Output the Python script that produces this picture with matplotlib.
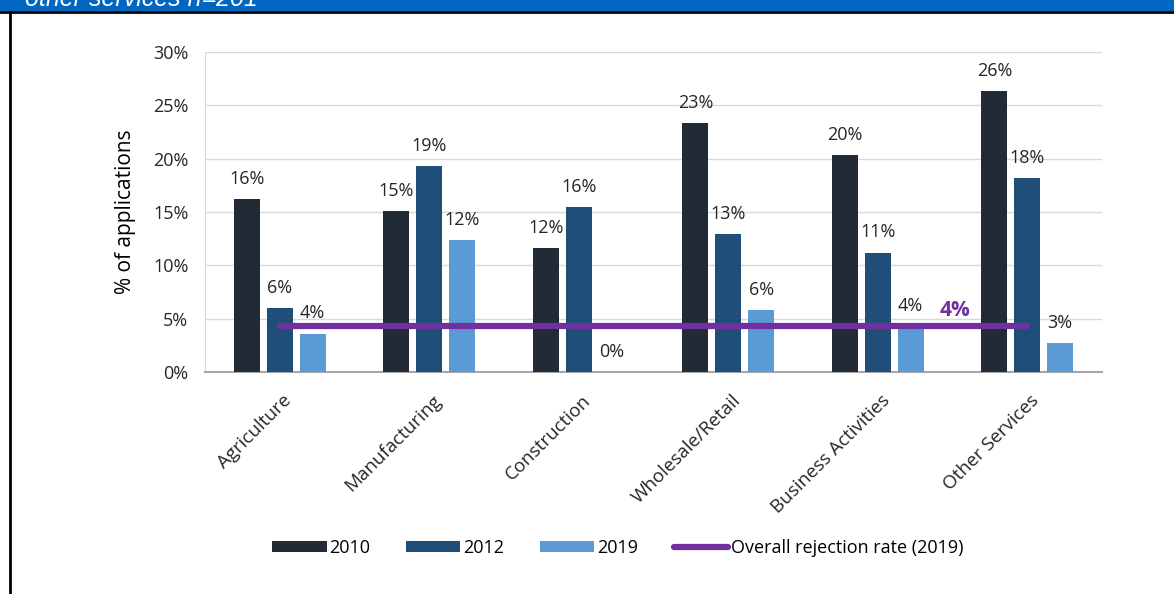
import matplotlib.pyplot as plt
import matplotlib.patches as mpatches
import matplotlib.lines as mlines
import numpy as np

# values (percent of applications rejected)
sectors = ["Agriculture", "Manufacturing", "Construction",
           "Wholesale/Retail", "Business Activities", "Other Services"]
years = ["2010", "2012", "2019"]
rate_2010 = [16.2, 15.1, 11.6, 23.3, 20.3, 26.3]
rate_2012 = [6.0, 19.3, 15.5, 12.9, 11.2, 18.2]
rate_2019 = [3.6, 12.4, 0.0, 5.8, 4.3, 2.7]
overall_2019 = 4.3
yticks = [0, 5, 10, 15, 20, 25, 30]

colors = ["#222a35", "#1f4e79", "#5b9bd5"]
purple = "#7030a0"

plt.rcParams["font.family"] = ["Open Sans", "DejaVu Sans"]

fig = plt.figure(figsize=(11.74, 5.94), dpi=100)

# blue banner at the top, its text cut off as in the source
fig.patches.append(mpatches.Rectangle((0, 1 - 11 / 594), 1, 11 / 594,
                                      transform=fig.transFigure,
                                      facecolor="#0066c0", edgecolor="none"))
fig.add_artist(mlines.Line2D([0, 1], [1 - 12 / 594] * 2, color="black",
                             lw=2, transform=fig.transFigure))
fig.add_artist(mlines.Line2D([9.5 / 1174] * 2, [0, 1 - 12 / 594], color="black",
                             lw=2, transform=fig.transFigure))
fig.text(25 / 1174, 1 + 1 / 594, "other services n=201", color="white",
         fontsize=18, style="italic", va="center", ha="left",
         family=["Liberation Sans", "DejaVu Sans"])

ax = fig.add_axes([205 / 1174, 1 - 372 / 594, 897 / 1174, 320 / 594])

x = np.arange(len(sectors))
w = 0.174
step = 0.22
series = [rate_2010, rate_2012, rate_2019]
for i, (vals, col, yr) in enumerate(zip(series, colors, years)):
    pos = x + (i - 1) * step
    ax.bar(pos, vals, width=w, color=col, label=yr, zorder=3)
    for p, v in zip(pos, vals):
        ax.annotate(f"{v:.0f}%", (p, v), xytext=(0, 8), textcoords="offset points",
                    ha="center", va="bottom", fontsize=13, color="#262626")

ax.plot(x, [overall_2019] * len(x), color=purple, lw=4.5, solid_capstyle="round",
        zorder=4, label="Overall rejection rate (2019)")
ax.text(4.52, overall_2019 + 0.5, f"{overall_2019:.0f}%", color=purple,
        fontsize=15, fontweight="bold", ha="center", va="bottom")

ax.set_xlim(-0.5, len(sectors) - 0.5)
ax.set_ylim(0, 30)
ax.set_yticks(yticks)
ax.set_yticklabels([f"{t}%" for t in yticks], fontsize=13, color="#262626")
ax.set_xticks(x + 0.02)
ax.set_xticklabels(sectors, rotation=45, ha="right", rotation_mode="anchor",
                   fontsize=13.5, color="#262626")
ax.tick_params(axis="x", length=0, pad=14)
ax.tick_params(axis="y", length=0, pad=12)
ax.set_ylabel("% of applications", fontsize=15, color="black", labelpad=12)
ax.grid(axis="y", color="#d9d9d9", lw=1, zorder=0)
for s in ["top", "right"]:
    ax.spines[s].set_visible(False)
ax.spines["left"].set_color("#d9d9d9")
ax.spines["bottom"].set_color("#a6a6a6")
ax.spines["bottom"].set_linewidth(1.5)

handles, labels = ax.get_legend_handles_labels()
order = [1, 2, 3, 0]
fig.legend([handles[i] for i in order], [labels[i] for i in order],
           loc="center", bbox_to_anchor=(618 / 1174, 1 - 548 / 594), ncol=4,
           frameon=False, fontsize=13, handlelength=3.0, handleheight=0.5,
           columnspacing=2.0, handletextpad=0.15)

fig.savefig("out.png", dpi=100)
